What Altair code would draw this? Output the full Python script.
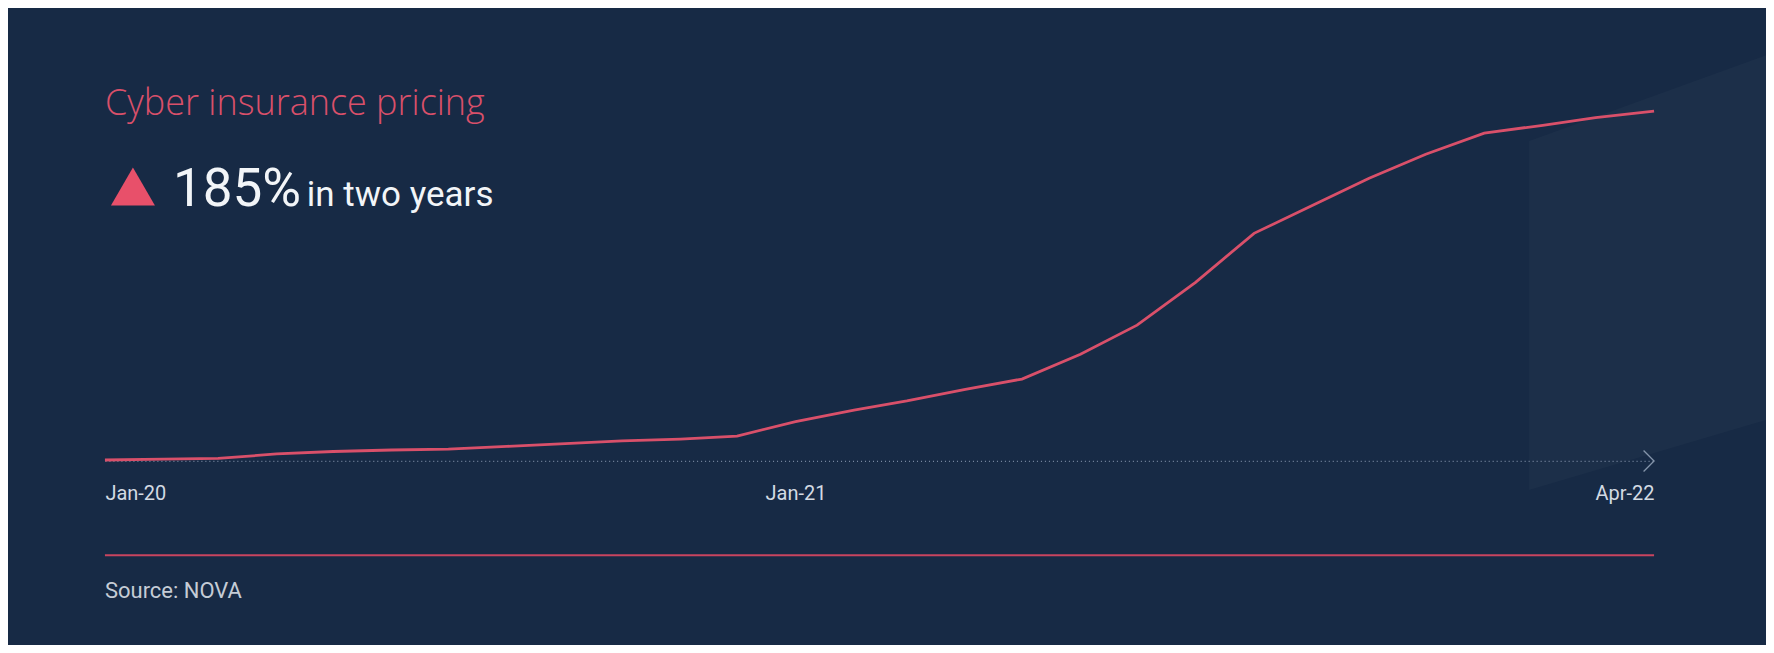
import altair as alt
import pandas as pd

# ---- data ----
months = [
    "2020-01-01", "2020-02-01", "2020-03-01", "2020-04-01", "2020-05-01", "2020-06-01",
    "2020-07-01", "2020-08-01", "2020-09-01", "2020-10-01", "2020-11-01", "2020-12-01",
    "2021-01-01", "2021-02-01", "2021-03-01", "2021-04-01", "2021-05-01", "2021-06-01",
    "2021-07-01", "2021-08-01", "2021-09-01", "2021-10-01", "2021-11-01", "2021-12-01",
    "2022-01-01", "2022-02-01", "2022-03-01", "2022-04-01",
]
price_index = [
    100.0, 100.5, 100.8, 103.2, 104.5, 105.3,
    105.8, 107.2, 108.7, 110.1, 111.1, 112.7,
    120.3, 126.5, 131.3, 137.5, 142.9, 156.1,
    171.5, 194.2, 220.2, 234.5, 249.4, 262.1,
    273.3, 277.5, 281.5, 285.0,
]
tick_dates = [(2020, 1), (2021, 1), (2022, 4)]
title_text = "Cyber insurance pricing"
headline_value = "185%"
headline_rest = "in two years"
source_text = "Source: NOVA"

BG = "#172a45"
PINK = "#d9506a"
FONT = "Roboto"

df = pd.DataFrame({"month": months, "index": price_index})
last = pd.DataFrame({"month": [months[-1]], "base": [99.5]})
one = pd.DataFrame({"k": [0]})

x_scale = alt.Scale(type="utc", domain=[
    alt.DateTime(year=2020, month=1, date=1, utc=True),
    alt.DateTime(year=2022, month=4, date=1, utc=True)], nice=False)
y_scale = alt.Scale(domain=[99.5, 311.5], nice=False, zero=False)

x_axis = alt.Axis(
    values=[alt.DateTime(year=y, month=m, date=1, utc=True) for y, m in tick_dates],
    format="%b-%y", title=None, grid=False, ticks=False,
    domainColor="#7a8aa2", domainDash=[1, 3], domainWidth=1.2,
    labelColor="#d3dae3", labelFont=FONT, labelFontSize=20, labelPadding=23,
    labelFlush=True, labelOverlap=False,
)

deco = alt.Chart(one).mark_point(
    shape="M-0.545,-0.605L0.545,-1L0.545,0.678L-0.545,1Z",
    filled=True, fill="#ffffff", fillOpacity=0.022, strokeWidth=0,
).encode(x=alt.value(1543.5), y=alt.value(211.5), size=alt.value(189225))

line = alt.Chart(df).mark_line(color=PINK, strokeWidth=2.8).encode(
    x=alt.X("month:T", scale=x_scale, axis=x_axis),
    y=alt.Y("index:Q", scale=y_scale, axis=None),
)

chevron = alt.Chart(last).mark_point(
    shape="M-1,-1L0,0L-1,1", filled=False, stroke="#8595ab", strokeWidth=1.3,
    size=441, opacity=1,
).encode(
    x=alt.X("month:T", scale=x_scale),
    y=alt.Y("base:Q", scale=y_scale),
)

title = alt.Chart(one).mark_text(
    text=title_text, font="Open Sans", fontSize=36, fontWeight=300, color="#d9506a",
    align="left", baseline="alphabetic",
).encode(x=alt.value(0), y=alt.value(54))

tri = alt.Chart(one).mark_point(
    shape="triangle-up", filled=True, color="#e8506a", opacity=1, size=1936,
).encode(x=alt.value(28), y=alt.value(125.5))

big = alt.Chart(one).mark_text(
    text=headline_value, font=FONT, fontSize=53, fontWeight=400, color="#f2f5f8",
    align="left", baseline="alphabetic",
).encode(x=alt.value(68), y=alt.value(145))

rest = alt.Chart(one).mark_text(
    text=headline_rest, font=FONT, fontSize=35, fontWeight=400, color="#f2f5f8",
    align="left", baseline="alphabetic",
).encode(x=alt.value(202), y=alt.value(145))

sep = alt.Chart(one).mark_rule(color="#c9445f", strokeWidth=2).encode(
    x=alt.value(0), x2=alt.value(1550), y=alt.value(494.5)
)

source = alt.Chart(one).mark_text(
    text=source_text, font=FONT, fontSize=22, color="#c5ccd6",
    align="left", baseline="alphabetic",
).encode(x=alt.value(0), y=alt.value(537))

chart = alt.layer(deco, line, chevron, title, tri, big, rest, sep, source).properties(
    width=1550, height=400,
    autosize=alt.AutoSizeParams(type="none"),
    padding={"left": 97, "top": 53, "right": 112, "bottom": 184},
    background=BG,
).configure_view(stroke=None)

chart.save("out.html", embed_options={"renderer": "svg", "actions": False})
